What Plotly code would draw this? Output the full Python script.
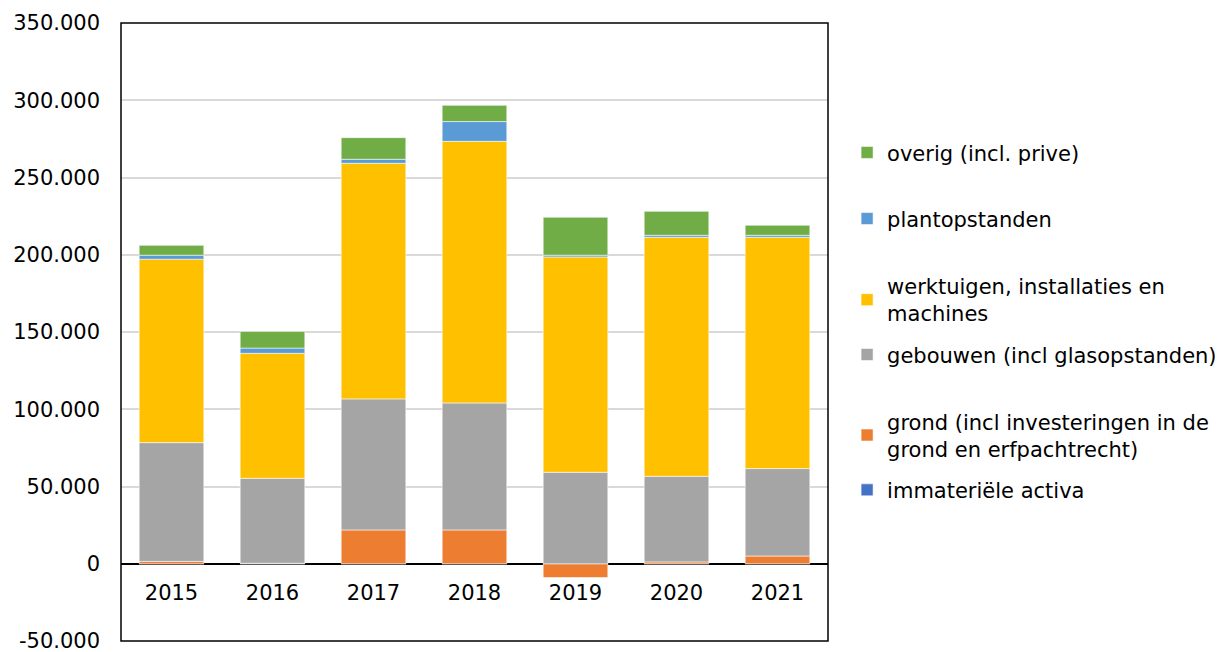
import plotly.graph_objects as go

years = ["2015", "2016", "2017", "2018", "2019", "2020", "2021"]

immateriele = [0, 0, 0, 0, 0, 0, 0]
grond = [1500, 300, 21900, 21900, -8900, 1200, 5000]
gebouwen = [76900, 55000, 84800, 82200, 59200, 55400, 56600]
werktuigen = [118700, 80900, 152500, 169300, 139400, 154700, 149700]
plantopstanden = [2600, 3400, 2600, 12800, 1100, 1300, 1300]
overig = [6400, 10800, 14000, 10500, 24600, 15500, 6500]

series_names = [
    "immateriële activa",
    "grond (incl investeringen in de<br>grond en erfpachtrecht)",
    "gebouwen (incl glasopstanden)",
    "werktuigen, installaties en<br>machines",
    "plantopstanden",
    "overig (incl. prive)",
]
series_values = [immateriele, grond, gebouwen, werktuigen, plantopstanden, overig]
colors = ["#4472C4", "#ED7D31", "#A5A5A5", "#FFC000", "#5B9BD5", "#70AD47"]

y_tickvals = [-50000, 0, 50000, 100000, 150000, 200000, 250000, 300000, 350000]
y_ticktext = ["-50.000", "0", "50.000", "100.000", "150.000", "200.000",
              "250.000", "300.000", "350.000"]

# legend centre positions (paper coords) for each series
legend_y = [0.244, 0.333, 0.463, 0.552, 0.683, 0.790]
legend_ids = ["legend", "legend2", "legend3", "legend4", "legend5", "legend6"]

FONT = "DejaVu Sans"
FS = 21

fig = go.Figure()
for name, vals, col, lid in zip(series_names, series_values, colors, legend_ids):
    fig.add_trace(go.Bar(
        x=years, y=vals, name=name, legend=lid,
        marker=dict(color=col, line=dict(color="rgba(255,255,255,0.7)", width=0.8)),
    ))

layout_legends = {}
for lid, ly in zip(legend_ids, legend_y):
    layout_legends[lid] = dict(
        x=1.027, xanchor="left", y=ly, yanchor="middle",
        font=dict(family=FONT, size=FS, color="#000000"),
        bgcolor="rgba(0,0,0,0)", itemwidth=30,
    )

fig.update_layout(
    barmode="relative",
    bargap=0.36,
    width=1215, height=644,
    margin=dict(l=113, r=395, t=15, b=11, autoexpand=False),
    plot_bgcolor="white", paper_bgcolor="white",
    font=dict(family=FONT, size=FS, color="#000000"),
    showlegend=True,
    **layout_legends,
    xaxis=dict(
        anchor="free", position=0.125, automargin=False,
        showline=False, showgrid=False, ticks="",
        tickfont=dict(family=FONT, size=FS, color="#000000"),
        ticklabelstandoff=14,
    ),
    yaxis=dict(
        range=[-50000, 350000], domain=[0, 1], automargin=False,
        tickvals=y_tickvals, ticktext=y_ticktext,
        ticklabeloverflow="allow",
        showgrid=True, gridcolor="#D9D9D9", gridwidth=1.5,
        zeroline=True, zerolinecolor="#000000", zerolinewidth=1.5,
        showline=False, ticks="",
        ticklabelstandoff=20,
        tickfont=dict(family=FONT, size=FS, color="#000000"),
    ),
    shapes=[dict(type="rect", xref="paper", yref="paper", x0=0, x1=1, y0=0, y1=1,
                 line=dict(color="#000000", width=1.5), fillcolor="rgba(0,0,0,0)",
                 layer="above")],
)

fig.write_html("out.html")
